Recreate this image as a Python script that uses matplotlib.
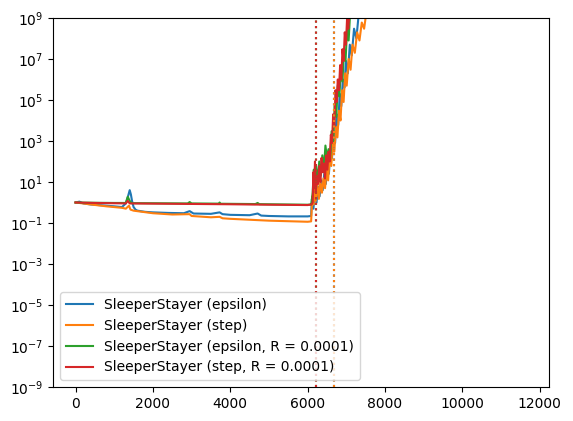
import matplotlib
matplotlib.use("Agg")
import matplotlib.pyplot as plt

# SleeperStayer (epsilon)
eps_x = [0, 100, 200, 400, 600, 800, 1000, 1200, 1300, 1350, 1400, 1430, 1460, 1500, 1550,
         1600, 1800, 2000, 2400, 2800, 2950, 3050, 3500, 3724, 3800, 4000, 4500, 4707, 4800,
         5000, 5500, 6000, 6090,
         6110, 6150, 6190, 6230, 6270, 6310, 6350, 6390, 6430, 6470, 6510, 6550, 6590, 6630,
         6670, 6710, 6750, 6790, 6830, 6870, 6910, 6950, 6990, 7040, 7090, 7140, 7200, 7260,
         7320, 7400, 11660]
eps_y = [1.0, 1.1, 0.9, 0.8, 0.75, 0.7, 0.65, 0.6, 0.9, 1.8, 4.0, 2.5, 1.2, 0.6, 0.45,
         0.4, 0.35, 0.33, 0.31, 0.3, 0.38, 0.29, 0.28, 0.33, 0.27, 0.25, 0.24, 0.29, 0.23,
         0.22, 0.21, 0.21, 0.22,
         1.5, 0.5, 4, 1, 6, 2, 12, 4, 25, 8, 80, 25, 400, 150,
         3000, 800, 2e4, 6e3, 2e5, 5e4, 1e6, 4e5, 8e6, 2e6, 5e7, 1.5e7, 3e8, 1e8,
         1.5e9, 1e10, 1e40]

# SleeperStayer (step)
step_x = [0, 200, 400, 800, 1200, 1300, 1380, 1420, 1500, 2000, 2500, 2950, 3000, 3500,
          3724, 3800, 4000, 5000, 6000, 6090,
          6100, 6120, 6150, 6180, 6210, 6250, 6290, 6330, 6370, 6410, 6450, 6490, 6530,
          6570, 6610, 6650, 6690, 6730, 6770, 6810, 6850, 6890, 6930, 6970, 7010, 7060,
          7110, 7160, 7220, 7280, 7340, 7400, 7460, 7520, 7600, 11660]
step_y = [1.0, 0.9, 0.8, 0.65, 0.55, 0.5, 0.7, 0.45, 0.4, 0.3, 0.26, 0.27, 0.22, 0.19,
          0.2, 0.17, 0.16, 0.13, 0.115, 0.12,
          0.3, 2, 0.8, 6, 1.2, 8, 1.5, 10, 3, 15, 5, 40, 12,
          200, 60, 800, 300, 5000, 1500, 3e4, 1e4, 3e5, 8e4, 2e6, 5e5, 1e7,
          3e6, 5e7, 2e7, 2e8, 8e7, 6e8, 3e8, 2e9, 1e10, 1e40]

# SleeperStayer (epsilon, R = 0.0001)
eps_r_x = [0, 500, 1000, 1300, 1350, 1400, 1450, 2000, 2900, 2950, 3000, 3700, 3724, 3750,
           4650, 4707, 4750, 5500, 6000, 6090,
           6100, 6130, 6160, 6190, 6220, 6260, 6300, 6340, 6380, 6420, 6460, 6500, 6540,
           6580, 6620, 6660, 6700, 6740, 6780, 6820, 6860, 6900, 6940, 6980, 7020, 7060,
           7100, 7200, 11660]
eps_r_y = [1.0, 0.97, 0.95, 0.95, 1.9, 1.2, 0.93, 0.92, 0.9, 1.05, 0.9, 0.88, 1.0, 0.87,
           0.84, 0.95, 0.83, 0.8, 0.78, 0.8,
           0.9, 3, 40, 8, 60, 10, 100, 20, 200, 40, 600, 150, 400,
           120, 3000, 1000, 5e4, 1.5e4, 5e5, 1.5e5, 3e6, 8e5, 3e7, 8e6, 3e8, 8e7,
           2e9, 1e11, 1e40]

# SleeperStayer (step, R = 0.0001)
step_r_x = [0, 500, 1000, 1300, 1350, 1400, 2000, 3000, 4000, 5000, 6000, 6100,
            6130, 6150, 6170, 6190, 6210, 6240, 6270, 6300, 6330, 6360, 6390, 6420, 6450,
            6480, 6510, 6540, 6570, 6600, 6630, 6660, 6690, 6720, 6750, 6780, 6810, 6840,
            6870, 6900, 6930, 6960, 6990, 7020, 7050, 7100, 7200, 11660]
step_r_y = [1.0, 0.95, 0.92, 0.9, 1.2, 0.9, 0.88, 0.85, 0.82, 0.78, 0.75, 0.8,
            1.0, 30, 5, 100, 3, 20, 8, 60, 10, 150, 30, 80, 15,
            200, 40, 300, 100, 2000, 800, 2e4, 5e3, 3e5, 8e4, 1e6, 3e5, 5e6,
            1e6, 3e7, 8e6, 2e8, 5e7, 1e9, 3e8, 5e9, 1e11, 1e40]

# divergence markers
vline_x = [6680, 6680, 6210, 6210]

series = [
    (eps_x, eps_y, "SleeperStayer (epsilon)"),
    (step_x, step_y, "SleeperStayer (step)"),
    (eps_r_x, eps_r_y, "SleeperStayer (epsilon, R = 0.0001)"),
    (step_r_x, step_r_y, "SleeperStayer (step, R = 0.0001)"),
]
colors = plt.cm.tab10.colors

fig = plt.figure(figsize=(5.73, 4.21), dpi=100)
ax = fig.add_axes([53 / 573, 1 - 387 / 421, 496 / 573, 369 / 421])

for i, (xs, ys, label) in enumerate(series):
    ax.plot(xs, ys, color=colors[i], label=label)
for i, vx in enumerate(vline_x):
    ax.axvline(vx, color=colors[i], linestyle=":")

ax.set_yscale("log")
ax.set_ylim(1e-9, 1e9)
ax.set_xlim(-583, 12240)
ax.set_yticks([10.0 ** k for k in range(-9, 10, 2)])
ax.legend(loc="lower left")

fig.savefig("out.png", dpi=100)
